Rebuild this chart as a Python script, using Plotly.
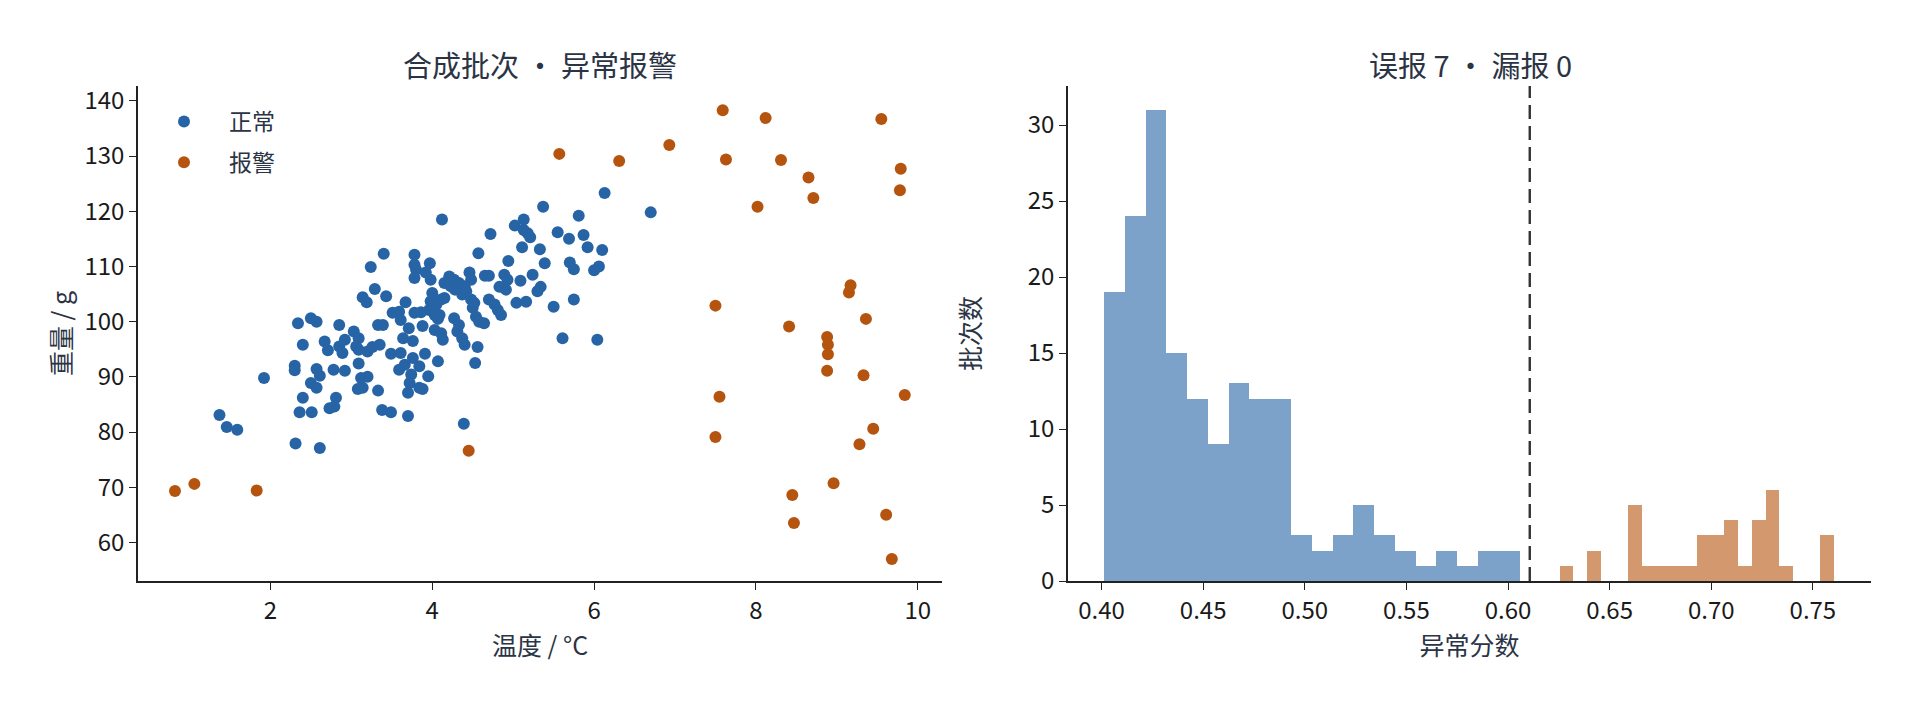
"""
Batch anomaly check: temperature vs weight scatter and anomaly score histogram.
"""

import numpy as np
import plotly.graph_objects as go
from plotly.subplots import make_subplots


# Scatter data
temp_normal = [
    4.12, 5.02, 3.24, 3.29, 3.14, 3.19,
    2.34, 2.50, 2.57, 2.85, 2.40, 2.67, 2.71, 2.85, 2.92, 2.89,
    3.03, 3.09, 3.06, 3.09, 3.20, 3.26, 3.35, 3.33, 3.39, 2.30,
    2.30, 1.92, 2.57, 2.61, 2.50, 2.57, 2.78, 2.92, 3.09, 3.12,
    3.20, 3.08, 3.14, 3.33, 2.40, 2.81, 2.79, 2.73, 2.36, 2.51,
    3.38, 3.49, 3.70, 1.37, 1.46, 1.59, 2.31, 2.61,
    3.40, 3.78, 3.78, 3.80, 3.78, 3.97, 3.92, 3.98, 4.57, 4.72,
    4.94, 4.21, 4.27, 4.15, 4.23, 4.33, 4.28, 4.46, 4.48, 4.40,
    4.42, 4.37, 4.65, 4.70, 4.89, 4.93, 4.83, 4.91, 5.04, 4.00,
    3.98, 4.05, 3.96, 4.15, 4.11, 4.48, 4.52, 4.50, 4.70, 4.77,
    4.81, 4.85, 3.67, 3.43, 3.51, 3.59, 3.61, 3.78, 3.86, 4.03,
    4.09, 4.07, 4.27, 4.33, 4.31, 4.37, 4.40, 4.54, 4.58, 4.64,
    3.71, 3.88, 4.03, 4.11, 4.13, 3.64, 3.76, 3.91, 4.07, 4.56,
    4.53, 3.49, 3.61, 3.76, 3.59, 3.66, 3.84, 3.74, 3.95, 3.72,
    3.70, 3.84, 3.88,
    6.13, 6.70, 5.37, 5.81, 5.13, 5.13, 5.18, 5.21, 5.55, 5.69,
    5.87, 5.92, 6.10, 5.11, 5.33, 5.39, 5.70, 5.75, 6.00, 6.06,
    5.09, 5.24, 5.30, 5.34, 5.16, 5.50, 5.75, 5.61, 6.04,
    4.39,
]
weight_normal = [
    118.5, 117.4, 109.9, 105.9, 104.4, 103.5,
    99.7, 100.6, 100.0, 99.4, 95.8, 96.4, 94.8, 95.5, 96.7, 94.3,
    98.2, 97.0, 95.5, 94.9, 94.6, 95.4, 95.8, 99.4, 99.4, 92.0,
    91.2, 89.8, 91.4, 90.2, 88.9, 88.0, 91.3, 91.1, 92.4, 89.8,
    90.0, 87.8, 88.0, 87.5, 86.2, 86.2, 84.6, 84.3, 83.6, 83.6,
    84.0, 83.6, 82.9, 83.1, 80.9, 80.4, 77.9, 77.1,
    112.3, 112.1, 110.3, 109.4, 107.9, 110.6, 108.9, 107.6, 112.4, 115.9,
    111.0, 108.2, 107.6, 107.0, 106.4, 107.0, 105.8, 108.9, 107.6, 106.4,
    105.5, 104.9, 108.3, 108.3, 108.5, 107.6, 106.3, 105.8, 103.4, 105.2,
    103.7, 103.1, 102.1, 104.3, 104.0, 104.0, 103.4, 102.5, 104.0, 103.1,
    102.1, 101.2, 103.5, 104.6, 101.6, 101.8, 100.3, 101.6, 101.7, 101.2,
    101.2, 100.5, 100.6, 99.4, 98.2, 97.0, 95.8, 100.9, 100.0, 99.7,
    98.8, 99.2, 98.5, 97.9, 96.7, 97.0, 96.5, 94.2, 92.8, 95.4,
    92.5, 94.2, 94.3, 93.4, 91.3, 92.2, 91.9, 90.4, 90.1, 88.9,
    87.1, 88.0, 87.8,
    123.3, 119.8, 120.8, 119.2, 118.5, 116.6, 116.0, 115.3, 116.2, 115.0,
    115.7, 113.5, 113.0, 113.5, 113.1, 110.6, 110.7, 109.5, 109.3, 110.0,
    107.4, 108.5, 105.5, 106.3, 103.6, 102.7, 104.0, 97.0, 96.7,
    81.5,
]

temp_alarm = [
    0.82, 1.06, 1.83, 4.45, 5.57, 6.31, 6.93, 7.59, 7.63, 8.12,
    8.02, 8.31, 8.65, 8.71, 9.55, 9.79, 9.78, 7.50, 9.17, 9.15,
    8.41, 9.36, 8.88, 8.89, 8.89, 8.88, 9.33, 9.84, 7.55, 7.50,
    9.45, 9.28, 8.96, 8.45, 8.47, 9.61, 9.68,
]
weight_alarm = [
    69.3, 70.6, 69.4, 76.6, 130.4, 129.1, 132.0, 138.3, 129.4, 136.9,
    120.8, 129.3, 126.1, 122.4, 136.7, 127.7, 123.8, 102.9, 106.6, 105.3,
    99.1, 100.5, 97.2, 95.8, 94.1, 91.1, 90.3, 86.7, 86.4, 79.1,
    80.6, 77.8, 70.7, 68.6, 63.5, 65.0, 57.0,
]

# Histogram data: 20 bins per group, between the lowest and highest score
score_range_normal = [0.4012, 0.6057]
counts_normal = [19, 24, 31, 15, 12, 9, 13, 12, 12, 3, 2, 3, 5, 3, 2, 1, 2, 1, 2, 2]
score_range_alarm = [0.6254, 0.7605]
counts_alarm = [1, 0, 2, 0, 0, 5, 1, 1, 1, 1, 3, 3, 4, 1, 4, 6, 1, 0, 0, 3]
threshold = 0.6107

false_alarms = 7
missed = 0

BLUE = "#2764a6"
ORANGE = "#b5540e"
TEXT = "#2b3445"
AXIS = "#222222"
FONT = "Noto Sans CJK SC"

# page has an 8px body margin, so the figure is a bit smaller than the window
W, H, PAD = 1904, 688, 8


def px_x(px):
    return (px - PAD) / W


def px_y(py):
    return 1 - (py - PAD) / H


def bin_centers(score_range, counts):
    edges = np.linspace(score_range[0], score_range[1], len(counts) + 1)
    return (edges[:-1] + edges[1:]) / 2, np.diff(edges)


fig = make_subplots(rows=1, cols=2)

# Left: scatter
fig.add_trace(go.Scatter(
    x=temp_normal, y=weight_normal, mode="markers",
    marker=dict(color=BLUE, size=12, line_width=0),
    name="正常", legendgroup="normal"
), row=1, col=1)
fig.add_trace(go.Scatter(
    x=temp_alarm, y=weight_alarm, mode="markers",
    marker=dict(color=ORANGE, size=12, line_width=0),
    name="报警", legendgroup="alarm"
), row=1, col=1)

# Right: histogram of anomaly scores
x_n, w_n = bin_centers(score_range_normal, counts_normal)
x_a, w_a = bin_centers(score_range_alarm, counts_alarm)
fig.add_trace(go.Bar(
    x=x_n, y=counts_normal, width=w_n,
    marker=dict(color=BLUE, opacity=0.6, line_width=0),
    showlegend=False
), row=1, col=2)
fig.add_trace(go.Bar(
    x=x_a, y=counts_alarm, width=w_a,
    marker=dict(color=ORANGE, opacity=0.6, line_width=0),
    showlegend=False
), row=1, col=2)

# threshold line
fig.add_shape(type="line", x0=threshold, x1=threshold, y0=0, y1=1,
              xref="x2", yref="y2 domain",
              line=dict(color="#333333", width=2.4, dash="14px,7px"))

axis_style = dict(
    showline=True, linecolor=AXIS, linewidth=1.6,
    ticks="outside", ticklen=7, tickwidth=1.4, tickcolor=AXIS,
    showgrid=False, zeroline=False, automargin=False,
    tickfont=dict(size=24, color="#1a1a1a"),
    title_font=dict(size=25, color=TEXT),
)

fig.update_xaxes(axis_style)
fig.update_yaxes(axis_style)

plot_y = [px_y(581), px_y(86)]

fig.update_layout(
    width=W, height=H,
    margin=dict(l=0, r=0, t=0, b=0),
    paper_bgcolor="white", plot_bgcolor="white",
    font=dict(family=FONT, color=TEXT),
    bargap=0, barmode="overlay",
    xaxis=dict(domain=[px_x(138), px_x(942)], range=[0.363, 10.30],
               tickvals=[2, 4, 6, 8, 10],
               title=dict(text="温度 / °C", standoff=3)),
    yaxis=dict(domain=plot_y, range=[53.0, 142.7],
               tickvals=[60, 70, 80, 90, 100, 110, 120, 130, 140],
               title=dict(text="重量 / g", standoff=6)),
    xaxis2=dict(domain=[px_x(1068), px_x(1871)], range=[0.3835, 0.7786],
                tickvals=[0.40, 0.45, 0.50, 0.55, 0.60, 0.65, 0.70, 0.75],
                tickformat=".2f",
                title=dict(text="异常分数", standoff=3)),
    yaxis2=dict(domain=plot_y, range=[0, 32.57],
                tickvals=[0, 5, 10, 15, 20, 25, 30],
                title=dict(text="批次数", standoff=40)),
    legend=dict(x=px_x(139), y=px_y(100), xanchor="left", yanchor="top",
                bgcolor="rgba(0,0,0,0)", font=dict(size=23, color=TEXT),
                itemsizing="constant", itemwidth=80, tracegroupgap=8),
    annotations=[
        dict(text="合成批次 · 异常报警", x=px_x(540), y=px_y(64),
             xref="paper", yref="paper", xanchor="center", yanchor="middle",
             showarrow=False, font=dict(size=29, color=TEXT)),
        dict(text=f"误报 {false_alarms} · 漏报 {missed}", x=px_x(1470), y=px_y(64),
             xref="paper", yref="paper", xanchor="center", yanchor="middle",
             showarrow=False, font=dict(size=29, color=TEXT)),
    ],
)

fig.write_html("out.html")
print("Interactive plot exported to: out.html")
